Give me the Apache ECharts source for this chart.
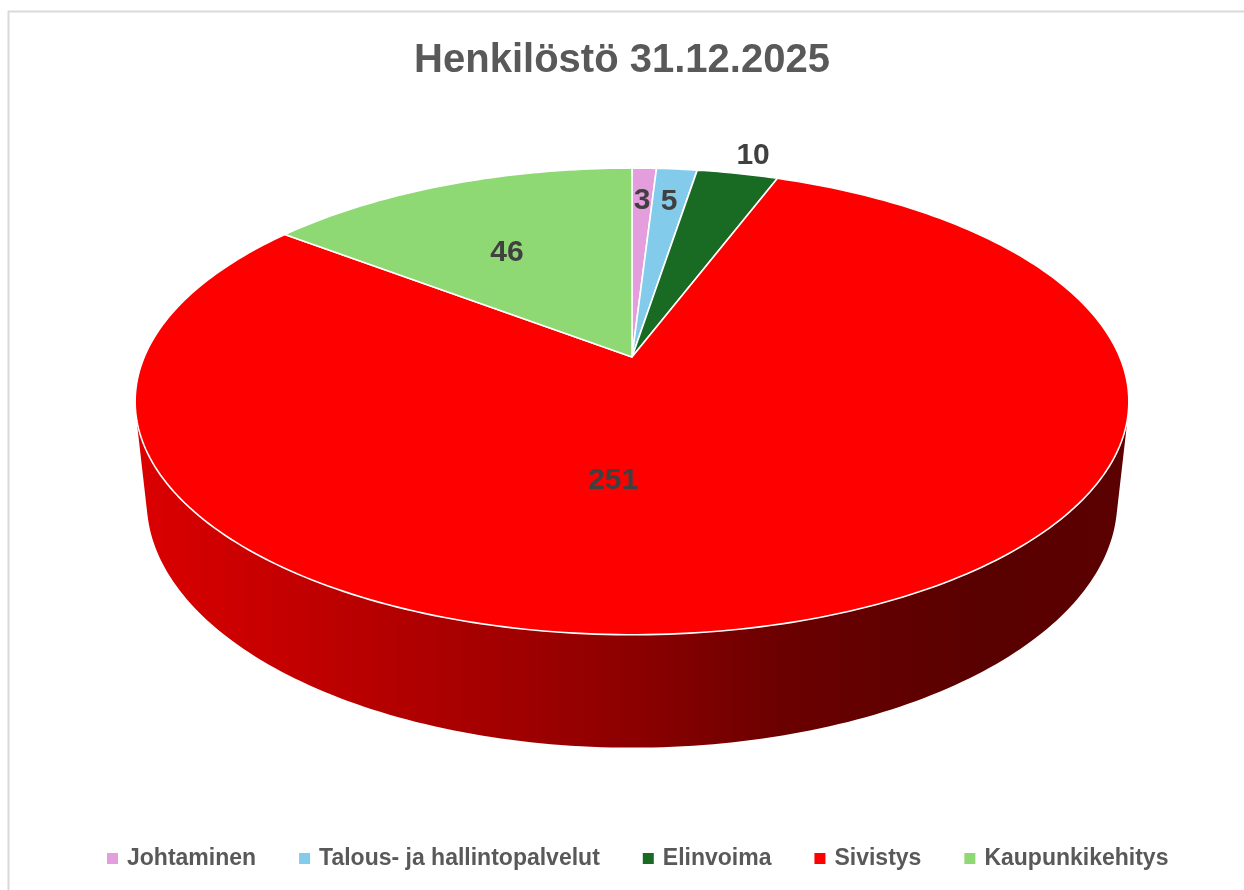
<!DOCTYPE html>
<html>
<head>
<meta charset="utf-8">
<script src="https://cdn.jsdelivr.net/npm/echarts@6/dist/echarts.min.js"></script>
<style>
html,body{margin:0;padding:0;background:#fff;}
#chart{width:1244px;height:890px;}
</style>
</head>
<body>
<div id="chart"></div>
<script>
// ---- data ----
var categories = ['Johtaminen', 'Talous- ja hallintopalvelut', 'Elinvoima', 'Sivistys', 'Kaupunkikehitys'];
var values = [3, 5, 10, 251, 46];
var colors = ['#E59EDD', '#83CBEB', '#196B24', '#FF0000', '#8ED973'];
var titleText = 'Henkilöstö 31.12.2025';

// ---- label placement (disc radius fraction, optional angle override in degrees) ----
var labelPlace = [[0.8, null], [0.8, null], [1.12, 15.5], [0.5, 184], [0.58, 331]];

// ---- 3D projection settings ----
var P = { cx: 632, cy: 357, f: 2273, sinT: 0.461, cosT: 0.887, D: 4.66, h: 0.232 };

function proj(X, Y, Z) {
  var yc = Y * P.cosT + Z * P.sinT;
  var zc = -Y * P.sinT + Z * P.cosT + P.D;
  return [P.cx + P.f * X / zc, P.cy - P.f * yc / zc];
}
function rim(deg, r, Y) {
  var a = deg * Math.PI / 180;
  return proj(r * Math.sin(a), Y, r * Math.cos(a));
}
function shade(hex, m) {
  var n = parseInt(hex.slice(1), 16);
  var r = Math.round(((n >> 16) & 255) * m), g = Math.round(((n >> 8) & 255) * m), b = Math.round((n & 255) * m);
  return 'rgb(' + r + ',' + g + ',' + b + ')';
}

var total = values.reduce(function (s, v) { return s + v; }, 0);
var starts = [];
(function () { var acc = 0; values.forEach(function (v) { starts.push(acc / total * 360); acc += v; }); })();

// visible range of the side wall (outward normal toward the camera)
var cLim = -1 / (P.D * P.cosT);
var visA = Math.acos(cLim) * 180 / Math.PI;
var visB = 360 - visA;

function makeRender(i) {
  return function (params, api) {
    var a = starts[i], b = a + values[i] / total * 360;
    var children = [];
    var wa = Math.max(a, visA), wb = Math.min(b, visB);
    if (wb > wa) {
      var pts = [], steps = Math.max(4, Math.ceil((wb - wa) / 1));
      for (var k = 0; k <= steps; k++) pts.push(rim(wa + (wb - wa) * k / steps, 1, 0));
      for (var k2 = steps; k2 >= 0; k2--) pts.push(rim(wa + (wb - wa) * k2 / steps, 1, -P.h));
      children.push({
        type: 'polygon', z2: 1,
        shape: { points: pts },
        style: {
          fill: {
            type: 'linear', x: 140, y: 0, x2: 1130, y2: 0, global: true,
            colorStops: [
              { offset: 0, color: shade(colors[i], 0.86) },
              { offset: 0.36, color: shade(colors[i], 0.64) },
              { offset: 0.5, color: shade(colors[i], 0.55) },
              { offset: 0.65, color: shade(colors[i], 0.42) },
              { offset: 0.85, color: shade(colors[i], 0.35) },
              { offset: 1, color: shade(colors[i], 0.36) }
            ]
          },
          stroke: null
        }
      });
    }
    var top = [proj(0, 0, 0)], st = Math.max(3, Math.ceil((b - a) / 1));
    for (var j = 0; j <= st; j++) top.push(rim(a + (b - a) * j / st, 1, 0));
    children.push({
      type: 'polygon', z2: 2,
      shape: { points: top },
      style: { fill: colors[i], stroke: '#ffffff', lineWidth: 1.6, lineJoin: 'round' }
    });
    var lp = labelPlace[i];
    var ang = lp[1] != null ? lp[1] : (a + b) / 2;
    var pos = rim(ang, lp[0], 0);
    children.push({
      type: 'text', z2: 5,
      x: pos[0], y: pos[1],
      style: {
        text: String(values[i]), fill: '#404040',
        font: 'bold 30px "Liberation Sans", Arial, sans-serif',
        align: 'center', verticalAlign: 'middle'
      }
    });
    return { type: 'group', children: children };
  };
}

var series = categories.map(function (name, i) {
  return {
    type: 'custom', name: name, coordinateSystem: 'none',
    itemStyle: { color: colors[i] },
    data: [[values[i]]],
    renderItem: makeRender(i),
    silent: true
  };
});

var chart = echarts.init(document.getElementById('chart'), null, { renderer: 'canvas' });
chart.setOption({
  animation: false,
  backgroundColor: '#ffffff',
  title: {
    text: titleText, left: 'center', top: 36,
    textStyle: { fontFamily: '"Liberation Sans", Arial, sans-serif', fontSize: 40, fontWeight: 'bold', color: '#595959' }
  },
  legend: {
    data: categories, bottom: 15, left: 102,
    icon: 'rect', itemWidth: 11, itemHeight: 11, itemGap: 43,
    textStyle: { fontFamily: '"Liberation Sans", Arial, sans-serif', fontSize: 23, fontWeight: 'bold', color: '#595959', padding: [0, 0, 0, 4] },
    selectedMode: false
  },
  graphic: [
    { type: 'line', shape: { x1: 8.5, y1: 11, x2: 8.5, y2: 890 }, style: { stroke: '#d9d9d9', lineWidth: 2 } },
    { type: 'line', shape: { x1: 8, y1: 11.5, x2: 1244, y2: 11.5 }, style: { stroke: '#d9d9d9', lineWidth: 2 } }
  ],
  series: series
});
</script>
</body>
</html>
